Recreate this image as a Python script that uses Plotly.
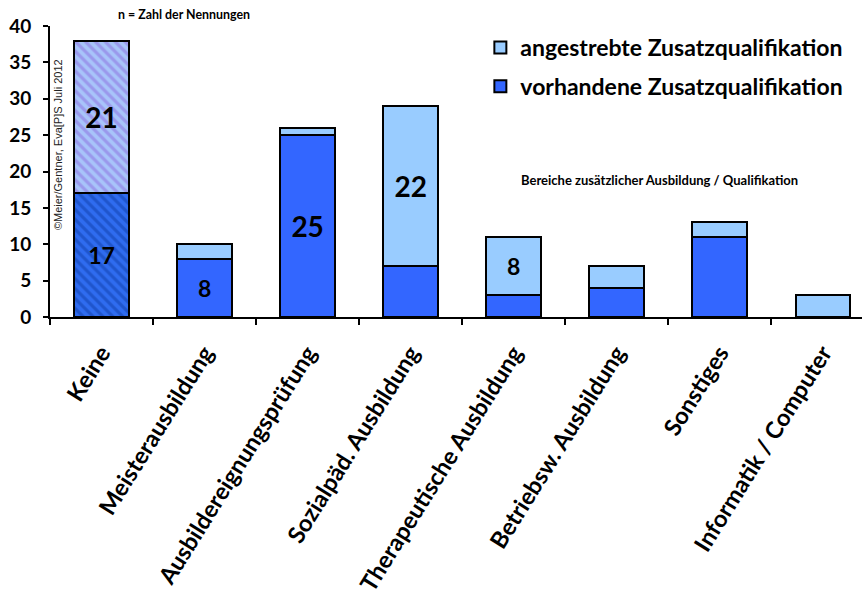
import plotly.graph_objects as go

# Kategorien und Nennungen
categories = ["Keine", "Meisterausbildung", "Ausbildereignungsprüfung",
              "Sozialpäd. Ausbildung", "Therapeutische Ausbildung",
              "Betriebsw. Ausbildung", "Sonstiges", "Informatik / Computer"]
vorhanden = [17, 8, 25, 7, 3, 4, 11, 0]
angestrebt = [21, 2, 1, 22, 8, 3, 2, 3]
# welche Werte im Balken beschriftet werden
label_vorhanden = [True, True, True, False, False, False, False, False]
label_angestrebt = [True, False, False, True, True, False, False, False]

FONT = "Lato"
DARK = "#3366ff"
LIGHT = "#99ccff"
BAR_W = 0.53
outline = dict(color="black", width=2)

fig = go.Figure()

def labels(vals, flags):
    return [str(v) if f else "" for v, f in zip(vals, flags)]

lab_v = labels(vorhanden, label_vorhanden)
lab_a = labels(angestrebt, label_angestrebt)
size_v = [23 if c == "Keine" or v < 10 else 28 for c, v in zip(categories, vorhanden)]
size_a = [28 if v >= 10 else 23 for v in angestrebt]

rest = categories[1:]
# vorhandene Zusatzqualifikation (ohne "Keine")
fig.add_trace(go.Bar(
    x=rest, y=vorhanden[1:], name="vorhandene Zusatzqualifikation",
    marker=dict(color=DARK, line=outline), width=BAR_W,
    text=lab_v[1:], textposition="inside", insidetextanchor="middle",
    textangle=0, textfont=dict(family=FONT, size=size_v[1:], color="black", weight="bold"),
    legendrank=2, legendgroup="v", hoverinfo="skip",
))
# "Keine" – schraffiert, unterer Teil
fig.add_trace(go.Bar(
    x=categories[:1], y=vorhanden[:1], showlegend=False, legendgroup="v",
    marker=dict(color="#2a66e8", line=outline,
                pattern=dict(shape="\\", fgcolor="#1f55cc", bgcolor="#2f6cf0",
                             size=7, solidity=0.45, fillmode="replace")),
    width=BAR_W,
    text=lab_v[:1], textposition="inside", insidetextanchor="middle",
    textangle=0, textfont=dict(family=FONT, size=size_v[:1], color="black", weight="bold"),
    hoverinfo="skip",
))
# angestrebte Zusatzqualifikation (ohne "Keine")
fig.add_trace(go.Bar(
    x=rest, y=angestrebt[1:], name="angestrebte Zusatzqualifikation",
    marker=dict(color=LIGHT, line=outline), width=BAR_W,
    text=lab_a[1:], textposition="inside", insidetextanchor="middle",
    textangle=0, textfont=dict(family=FONT, size=size_a[1:], color="black", weight="bold"),
    legendrank=1, legendgroup="a", hoverinfo="skip",
))
# "Keine" – schraffiert, oberer Teil
fig.add_trace(go.Bar(
    x=categories[:1], y=angestrebt[:1], showlegend=False, legendgroup="a",
    marker=dict(color="#a8b0f6", line=outline,
                pattern=dict(shape="\\", fgcolor="#9a98ec", bgcolor="#a8c4fa",
                             size=7, solidity=0.45, fillmode="replace")),
    width=BAR_W,
    text=lab_a[:1], textposition="inside", insidetextanchor="middle",
    textangle=0, textfont=dict(family=FONT, size=size_a[:1], color="black", weight="bold"),
    hoverinfo="skip",
))

fig.update_layout(
    width=862, height=604,
    margin=dict(l=50, r=0, t=26, b=287, autoexpand=False),
    paper_bgcolor="white", plot_bgcolor="white",
    barmode="stack",
    font=dict(family=FONT, color="black"),
    showlegend=True,
    legend=dict(x=0.53, y=1.0, xanchor="left", yanchor="top",
                font=dict(family=FONT, size=23, color="black", weight="bold"),
                bgcolor="rgba(0,0,0,0)", traceorder="grouped",
                itemwidth=30, tracegroupgap=6),
    xaxis=dict(
        categoryorder="array", categoryarray=categories, automargin=False,
        range=[-0.5, 7.38], showline=True, linecolor="black", linewidth=2,
        ticks="outside", tickson="boundaries", ticklen=6, tickcolor="black",
        tickwidth=2, tickangle=-58, ticklabelstandoff=11,
        tickfont=dict(family=FONT, size=23.5, color="black", weight="bold"),
        showgrid=False, zeroline=False, fixedrange=True,
    ),
    yaxis=dict(
        range=[0, 40], dtick=5, showline=True, linecolor="black", linewidth=2,
        automargin=False,
        ticks="outside", ticklen=5, tickcolor="black", tickwidth=2,
        ticklabelstandoff=8,
        tickfont=dict(family=FONT, size=19, color="black", weight="bold"),
        showgrid=False, zeroline=False, fixedrange=True,
    ),
    annotations=[
        dict(text="n = Zahl der Nennungen", xref="paper", yref="paper",
             x=0.165, y=1.038, xanchor="center", yanchor="middle", showarrow=False,
             font=dict(family=FONT, size=12.4, color="black", weight="bold")),
        dict(text="Bereiche zusätzlicher Ausbildung / Qualifikation",
             xref="paper", yref="paper", x=0.751, y=0.471,
             xanchor="center", yanchor="middle", showarrow=False,
             font=dict(family=FONT, size=13, color="black", weight="bold")),
        dict(text="©Meier/Gentner, Eva[P]S Juli 2012", xref="paper", yref="paper",
             x=0.0098, y=0.594, xanchor="center", yanchor="middle",
             textangle=-90, showarrow=False,
             font=dict(family="Liberation Sans", size=11, color="#222")),
    ],
)

fig.write_html("out.html")
